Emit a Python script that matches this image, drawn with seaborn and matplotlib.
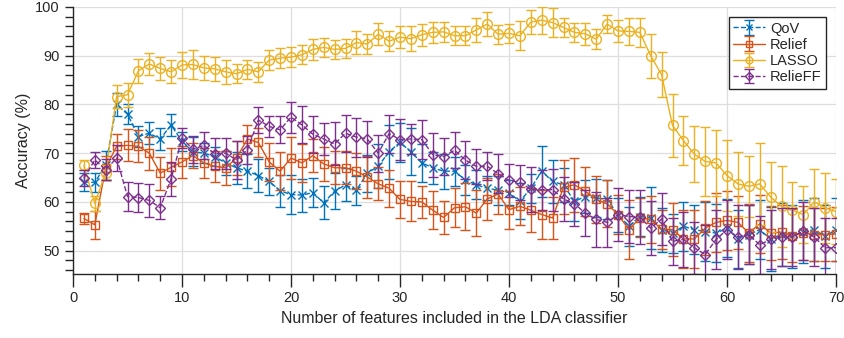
import numpy as np
import matplotlib
matplotlib.use("Agg")
import matplotlib.pyplot as plt
from matplotlib.ticker import MultipleLocator
from matplotlib.legend_handler import HandlerTuple
import seaborn as sns

# Number of features fed to the LDA classifier
features = np.arange(1, 71)

# Mean accuracy (%) per feature-selection method
qov = [64.1, 64.0, 67.5, 80.0, 78.0, 73.4, 74.1, 72.9, 75.8, 72.4,
       70.3, 70.0, 69.3, 68.0, 67.0, 66.3, 65.4, 64.2, 62.3, 61.5,
       61.4, 61.9, 59.8, 62.2, 63.5, 62.4, 65.9, 67.3, 70.3, 72.2,
       70.3, 68.0, 67.0, 66.3, 66.3, 64.5, 63.5, 62.8, 62.4, 61.9,
       60.1, 62.8, 66.3, 64.2, 63.5, 60.1, 61.1, 60.8, 60.5, 57.4,
       55.0, 57.0, 56.7, 54.3, 53.6, 55.0, 54.3, 53.9, 53.6, 54.6,
       52.4, 53.3, 54.3, 52.4, 53.3, 52.9, 53.9, 54.3, 52.9, 54.3]
relief = [56.6, 55.3, 67.0, 71.4, 71.6, 71.4, 70.0, 65.9, 67.1, 68.2,
          69.5, 68.0, 67.3, 67.0, 69.0, 72.9, 72.2, 68.2, 66.3, 69.0,
          68.0, 69.5, 67.8, 67.0, 67.0, 66.3, 65.1, 63.7, 62.8, 60.5,
          60.1, 60.0, 58.3, 56.8, 58.8, 59.0, 57.7, 60.6, 61.6, 58.4,
          59.1, 58.3, 57.4, 56.7, 63.0, 63.5, 62.2, 60.5, 59.6, 57.4,
          54.3, 56.7, 56.4, 54.4, 54.3, 52.4, 52.4, 54.6, 55.8, 56.2,
          55.8, 53.6, 55.5, 53.6, 53.8, 53.1, 53.6, 53.3, 53.3, 53.4]
lasso = [67.5, 59.7, 66.0, 81.6, 82.0, 86.9, 88.3, 87.4, 86.7, 88.1,
         88.2, 87.5, 87.3, 86.7, 86.3, 87.2, 86.7, 89.1, 89.5, 89.7,
         90.2, 91.3, 91.7, 91.3, 91.5, 92.7, 92.4, 94.4, 93.0, 93.8,
         93.5, 94.3, 94.8, 94.9, 94.1, 94.1, 95.3, 96.5, 94.4, 94.6,
         94.1, 96.9, 97.3, 96.8, 95.8, 94.8, 94.5, 93.4, 96.5, 95.1,
         95.0, 94.8, 90.0, 86.1, 75.7, 72.6, 69.8, 68.3, 68.0, 65.4,
         63.7, 63.2, 63.7, 61.0, 59.1, 58.3, 57.4, 60.0, 58.8, 58.0]
relieff = [64.9, 68.6, 66.6, 69.0, 61.1, 60.9, 60.3, 58.8, 64.7, 73.1,
           70.8, 71.6, 69.9, 70.0, 68.6, 70.7, 76.8, 75.5, 74.8, 77.4,
           75.8, 73.9, 72.9, 71.9, 74.1, 73.3, 72.9, 70.0, 74.0, 72.8,
           72.9, 72.8, 69.7, 69.3, 70.6, 68.6, 67.3, 67.3, 65.8, 64.4,
           64.0, 62.6, 62.5, 62.5, 60.6, 59.6, 57.7, 56.4, 55.8, 57.4,
           57.0, 56.9, 54.6, 56.5, 51.9, 52.3, 50.6, 49.2, 52.3, 54.3,
           52.8, 53.3, 51.2, 52.3, 52.8, 52.8, 54.0, 52.8, 50.6, 50.6]

# Standard deviation of the accuracy
qov_err = [1.9, 2.0, 3.0, 2.3, 2.0, 2.2, 2.2, 2.2, 2.3, 2.0,
           3.0, 2.0, 2.0, 2.5, 3.3, 3.5, 3.4, 2.7, 3.3, 4.0,
           3.4, 3.0, 3.4, 3.7, 3.4, 3.0, 3.8, 4.5, 5.5, 4.0,
           4.8, 3.9, 3.3, 3.6, 3.0, 3.0, 3.0, 2.5, 3.0, 2.5,
           3.7, 3.0, 5.2, 4.5, 3.5, 4.0, 3.4, 4.0, 4.0, 3.5,
           4.0, 4.0, 6.3, 4.5, 4.0, 5.0, 5.0, 6.0, 6.0, 6.0,
           6.0, 6.0, 6.0, 6.5, 6.5, 6.5, 6.5, 6.5, 6.5, 6.5]
relief_err = [1.1, 2.9, 2.5, 2.5, 3.3, 3.3, 3.4, 3.4, 3.9, 3.2,
              2.5, 3.0, 3.2, 3.5, 3.5, 2.8, 3.0, 3.9, 3.9, 4.3,
              3.9, 3.4, 3.5, 3.4, 3.4, 3.7, 4.3, 3.4, 3.8, 3.8,
              4.1, 3.3, 3.9, 3.3, 4.0, 4.8, 4.7, 4.3, 4.1, 3.9,
              3.9, 4.5, 5.0, 4.4, 5.5, 5.6, 5.0, 4.8, 4.8, 4.0,
              6.0, 4.0, 4.8, 4.0, 5.5, 6.0, 6.0, 5.5, 6.0, 6.0,
              5.5, 6.0, 6.0, 5.5, 5.5, 5.5, 5.5, 5.5, 5.5, 5.5]
lasso_err = [1.0, 1.5, 1.5, 2.3, 2.5, 2.5, 2.2, 2.3, 2.4, 2.7,
             2.9, 2.5, 2.5, 2.5, 2.0, 2.0, 2.0, 2.0, 2.0, 2.0,
             2.0, 2.2, 2.0, 2.0, 2.0, 2.3, 2.0, 2.3, 2.0, 2.3,
             2.5, 2.3, 2.2, 2.0, 2.0, 2.0, 2.5, 2.5, 2.0, 2.0,
             3.0, 2.5, 2.8, 3.0, 2.0, 2.0, 2.3, 2.0, 1.8, 2.2,
             2.8, 3.0, 4.5, 4.6, 6.5, 5.1, 5.7, 7.0, 6.8, 7.2,
             6.5, 6.3, 8.4, 7.2, 8.3, 5.8, 5.8, 6.7, 7.2, 6.7]
relieff_err = [1.7, 1.7, 2.2, 2.7, 3.0, 3.0, 3.4, 2.4, 3.4, 2.1,
               2.8, 2.7, 3.2, 3.2, 3.9, 2.9, 2.7, 2.2, 2.8, 3.2,
               3.8, 3.8, 3.2, 4.4, 3.8, 4.0, 3.7, 3.8, 3.9, 4.3,
               3.0, 4.0, 4.5, 3.8, 3.7, 3.9, 3.6, 2.9, 4.0, 3.3,
               3.6, 4.6, 4.1, 4.3, 4.5, 4.5, 4.8, 5.6, 5.1, 5.5,
               5.5, 5.5, 5.5, 5.3, 4.8, 5.6, 5.3, 6.0, 6.0, 6.0,
               6.5, 6.0, 6.0, 6.0, 6.0, 6.0, 6.0, 6.0, 6.0, 6.0]

methods = ["QoV", "Relief", "LASSO", "RelieFF"]
means = [qov, relief, lasso, relieff]
errors = [qov_err, relief_err, lasso_err, relieff_err]

styles = {
    "QoV":     dict(color="#0072BD", marker="x", ls="--", ms=5.5),
    "Relief":  dict(color="#D95319", marker="s", ls="-",  ms=5.5),
    "LASSO":   dict(color="#EDB120", marker="o", ls="-",  ms=7.0),
    "RelieFF": dict(color="#7E2F8E", marker="D", ls="--", ms=5.5),
}

sns.set_style("white")
plt.rcParams["font.family"] = ["Liberation Sans", "DejaVu Sans"]

fig = plt.figure(figsize=(8.44, 3.38), dpi=100)
ax = fig.add_axes([73 / 844, 1 - 274 / 338, 763 / 844, 267 / 338])

handles = []
for name, m, e in zip(methods, means, errors):
    st = styles[name]
    c = st["color"]
    sns.lineplot(x=features, y=m, ax=ax, color=c, marker=st["marker"],
                 linestyle=st["ls"], lw=1.0, markersize=st["ms"],
                 markerfacecolor="none", markeredgecolor=c,
                 markeredgewidth=1.0, legend=False)
    line = ax.lines[-1]
    eb = ax.errorbar(features, m, yerr=e, fmt="none", ecolor=c,
                     elinewidth=1.0, capsize=3.5, capthick=1.0)
    handles.append((eb, line))

ax.set_xlim(0, 70)
ax.set_ylim(45.2, 100)
ax.set_xticks(range(0, 71, 10))
ax.set_yticks(range(50, 101, 10))
ax.xaxis.set_minor_locator(MultipleLocator(2))
ax.yaxis.set_minor_locator(MultipleLocator(2))
ax.grid(True, which="major", color="#dedede", lw=0.9)
ax.set_axisbelow(True)

for side in ("top", "right"):
    ax.spines[side].set_visible(False)
for side in ("left", "bottom"):
    ax.spines[side].set_color("#262626")
    ax.spines[side].set_linewidth(1.0)

ax.tick_params(axis="both", which="both", direction="out", colors="#262626",
               width=1.0, left=True, bottom=True, labelsize=10.5)
ax.tick_params(axis="x", which="major", length=9)
ax.tick_params(axis="x", which="minor", length=5)
ax.tick_params(axis="y", which="both", length=6)

ax.set_xlabel("Number of features included in the LDA classifier",
              fontsize=11.5, color="#262626", labelpad=4)
ax.set_ylabel("Accuracy (%)", fontsize=11.5, color="#262626", labelpad=3)

leg = ax.legend(handles, methods, loc="upper right",
                handler_map={tuple: HandlerTuple(ndivide=1)},
                fontsize=10.5, frameon=True, fancybox=False,
                edgecolor="#262626", framealpha=1, borderaxespad=0.7,
                handlelength=2.2, handletextpad=0.3, labelspacing=0.15,
                borderpad=0.3, markerscale=0.7)
leg.get_frame().set_linewidth(1.0)

fig.savefig("out.png", dpi=100)
